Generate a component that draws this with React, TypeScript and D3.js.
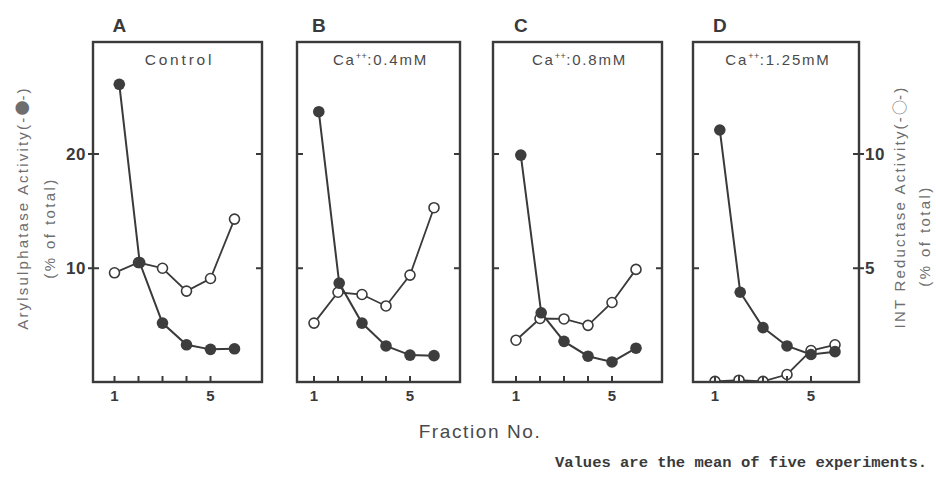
import React from "react";
import * as d3 from "d3";

// ---- data ----
const panelLetters = ["A", "B", "C", "D"];
const panelConditions = ["Control", "0.4mM", "0.8mM", "1.25mM"];
const openFractions = [1, 2, 3, 4, 5, 6];
const filledFractions = [1.2, 2.05, 3, 4, 5, 6];
// Arylsulphatase activity (% of total), left axis, filled circles
const arylA = [26.1, 10.5, 5.2, 3.3, 2.9, 2.95];
const arylB = [23.7, 8.7, 5.2, 3.2, 2.4, 2.35];
const arylC = [19.9, 6.1, 3.6, 2.3, 1.8, 3.0];
const arylD = [22.1, 7.9, 4.8, 3.2, 2.45, 2.7];
// INT reductase activity (% of total), right axis, open circles
const intA = [4.8, 5.25, 5.0, 4.0, 4.55, 7.15];
const intB = [2.6, 3.95, 3.85, 3.35, 4.7, 7.65];
const intC = [1.85, 2.8, 2.78, 2.5, 3.5, 4.95];
const intD = [0.05, 0.1, 0.05, 0.35, 1.4, 1.65];
const leftTicks = [10, 20];
const rightTicks = [5, 10];
const xTicks = [1, 2, 3, 4, 5];
const xTickLabels = [1, 5];

const arylSeries = [arylA, arylB, arylC, arylD];
const intSeries = [intA, intB, intC, intD];

// ---- layout ----
const panels = [
  { left: 93, right: 262, first: 114.5 },
  { left: 297, right: 460, first: 314 },
  { left: 493, right: 662, first: 516 },
  { left: 693, right: 859, first: 715 },
];
const TOP = 42;
const BOTTOM = 382;
const STEP = 24;

const yLeft = d3.scaleLinear().domain([0, 29.8]).range([382.5, 42]);
const yRight = d3.scaleLinear().domain([0, 14.9]).range([382.5, 42]);

const SANS = "'Liberation Sans', Arial, Helvetica, sans-serif";
const SYM = "'Noto Sans CJK SC', 'DejaVu Sans', sans-serif";
const INK = "#3a3a3a";
const TXT = "#4a4a4a";
const LIGHT = "#6e6e6e";

function Panel({ i }: { i: number }) {
  const p = panels[i];
  const x = d3
    .scaleLinear()
    .domain([1, 2])
    .range([p.first, p.first + STEP]);
  const line = d3
    .line<[number, number]>()
    .x((d) => d[0])
    .y((d) => d[1]);
  const filledPts: [number, number][] = arylSeries[i].map((v, k) => [
    x(filledFractions[k]),
    yLeft(v),
  ]);
  const openPts: [number, number][] = intSeries[i].map((v, k) => [
    x(openFractions[k]),
    yRight(v),
  ]);
  const clipId = `clip${i}`;
  const cond = panelConditions[i];
  const cx = (p.left + p.right) / 2 + 2;
  return (
    <g>
      <defs>
        <clipPath id={clipId}>
          <rect x={p.left} y={TOP} width={p.right - p.left} height={BOTTOM - TOP} />
        </clipPath>
      </defs>
      <text
        x={p.first - 2}
        y={32}
        fontFamily={SANS}
        fontWeight="bold"
        fontSize={19}
        fill={INK}
      >
        {panelLetters[i]}
      </text>
      {cond === "Control" ? (
        <text
          x={cx}
          y={65}
          textAnchor="middle"
          fontFamily={SANS}
          fontSize={15.5}
          letterSpacing={2.8}
          fill={TXT}
        >
          Control
        </text>
      ) : (
        <text
          x={cx}
          y={65}
          textAnchor="middle"
          fontFamily={SANS}
          fontSize={15}
          letterSpacing={1.8}
          fill={TXT}
        >
          <tspan>Ca</tspan>
          <tspan fontSize={9} dy={-6} letterSpacing={0.5}>
            ++
          </tspan>
          <tspan dy={6}>:{cond}</tspan>
        </text>
      )}
      <g clipPath={`url(#${clipId})`}>
        <path d={line(openPts) || ""} fill="none" stroke={INK} strokeWidth={1.8} />
        <path d={line(filledPts) || ""} fill="none" stroke={INK} strokeWidth={2} />
        {openPts.map((d, k) => (
          <circle key={"o" + k} cx={d[0]} cy={d[1]} r={5} fill="#fff" stroke={INK} strokeWidth={1.6} />
        ))}
        {filledPts.map((d, k) => (
          <circle key={"f" + k} cx={d[0]} cy={d[1]} r={5.8} fill="#3d3d3d" />
        ))}
      </g>
      <rect
        x={p.left}
        y={TOP}
        width={p.right - p.left}
        height={BOTTOM - TOP}
        fill="none"
        stroke={INK}
        strokeWidth={2.4}
      />
      {leftTicks.map((t) => (
        <g key={"lt" + t}>
          <line x1={p.left} x2={p.left + 6} y1={yLeft(t)} y2={yLeft(t)} stroke={INK} strokeWidth={2} />
          <line x1={p.right - 6} x2={p.right} y1={yLeft(t)} y2={yLeft(t)} stroke={INK} strokeWidth={2} />
        </g>
      ))}
      {xTicks.map((t) => (
        <line
          key={"xt" + t}
          x1={x(t)}
          x2={x(t)}
          y1={BOTTOM}
          y2={BOTTOM - 6}
          stroke={INK}
          strokeWidth={2}
        />
      ))}
      {xTickLabels.map((t) => (
        <text
          key={"xl" + t}
          x={x(t)}
          y={401}
          textAnchor="middle"
          fontFamily={SANS}
          fontWeight="bold"
          fontSize={15}
          fill={INK}
        >
          {t}
        </text>
      ))}
      {i === 0 &&
        leftTicks.map((t) => (
          <g key={"ll" + t}>
            <line x1={p.left - 5} x2={p.left} y1={yLeft(t)} y2={yLeft(t)} stroke={INK} strokeWidth={2} />
            <text
              x={p.left - 7}
              y={yLeft(t) + 6}
              textAnchor="end"
              fontFamily={SANS}
              fontWeight="bold"
              fontSize={17}
              letterSpacing={0.5}
              fill={INK}
            >
              {t}
            </text>
          </g>
        ))}
      {i === 3 &&
        rightTicks.map((t) => (
          <g key={"rl" + t}>
            <line x1={p.right} x2={p.right + 5} y1={yRight(t)} y2={yRight(t)} stroke={INK} strokeWidth={2} />
            <text
              x={p.right + 6}
              y={yRight(t) + 6}
              fontFamily={SANS}
              fontWeight="bold"
              fontSize={17}
              letterSpacing={0.5}
              fill={INK}
            >
              {t}
            </text>
          </g>
        ))}
    </g>
  );
}

export default function App() {
  return (
    <svg
      width={936}
      height={484}
      viewBox="0 0 936 484"
      style={{ position: "absolute", left: 0, top: 0, background: "#fff" }}
    >
      <rect x={0} y={0} width={936} height={484} fill="#fff" />
      {panels.map((_, i) => (
        <Panel key={i} i={i} />
      ))}
      {/* left axis title */}
      <text
        transform="translate(28,208) rotate(-90)"
        textAnchor="middle"
        fontFamily={SANS}
        fontSize={15}
        letterSpacing={2.2}
        fill={LIGHT}
      >
        Arylsulphatase Activity(-<tspan fontFamily={SYM} fontSize={15} letterSpacing={0}>{"\u25CF"}</tspan>-)
      </text>
      <text
        transform="translate(55,228) rotate(-90)"
        textAnchor="middle"
        fontFamily={SANS}
        fontSize={15}
        letterSpacing={2.4}
        fill={LIGHT}
      >
        (% of total)
      </text>
      {/* right axis title */}
      <text
        transform="translate(905,207) rotate(-90)"
        textAnchor="middle"
        fontFamily={SANS}
        fontSize={15}
        letterSpacing={2.2}
        fill={LIGHT}
      >
        INT Reductase Activity(-<tspan fontFamily={SYM} fontSize={15} letterSpacing={0}>{"\u25CB"}</tspan>-)
      </text>
      <text
        transform="translate(930,236) rotate(-90)"
        textAnchor="middle"
        fontFamily={SANS}
        fontSize={15}
        letterSpacing={2.4}
        fill={LIGHT}
      >
        (% of total)
      </text>
      <text
        x={480}
        y={438}
        textAnchor="middle"
        fontFamily={SANS}
        fontSize={19}
        letterSpacing={1.6}
        fill={TXT}
      >
        Fraction No.
      </text>
      <text
        x={927}
        y={467}
        textAnchor="end"
        fontFamily="'Liberation Mono', 'Courier New', monospace"
        fontWeight="bold"
        fontSize={15.5}
        fill={INK}
      >
        Values are the mean of five experiments.
      </text>
    </svg>
  );
}
